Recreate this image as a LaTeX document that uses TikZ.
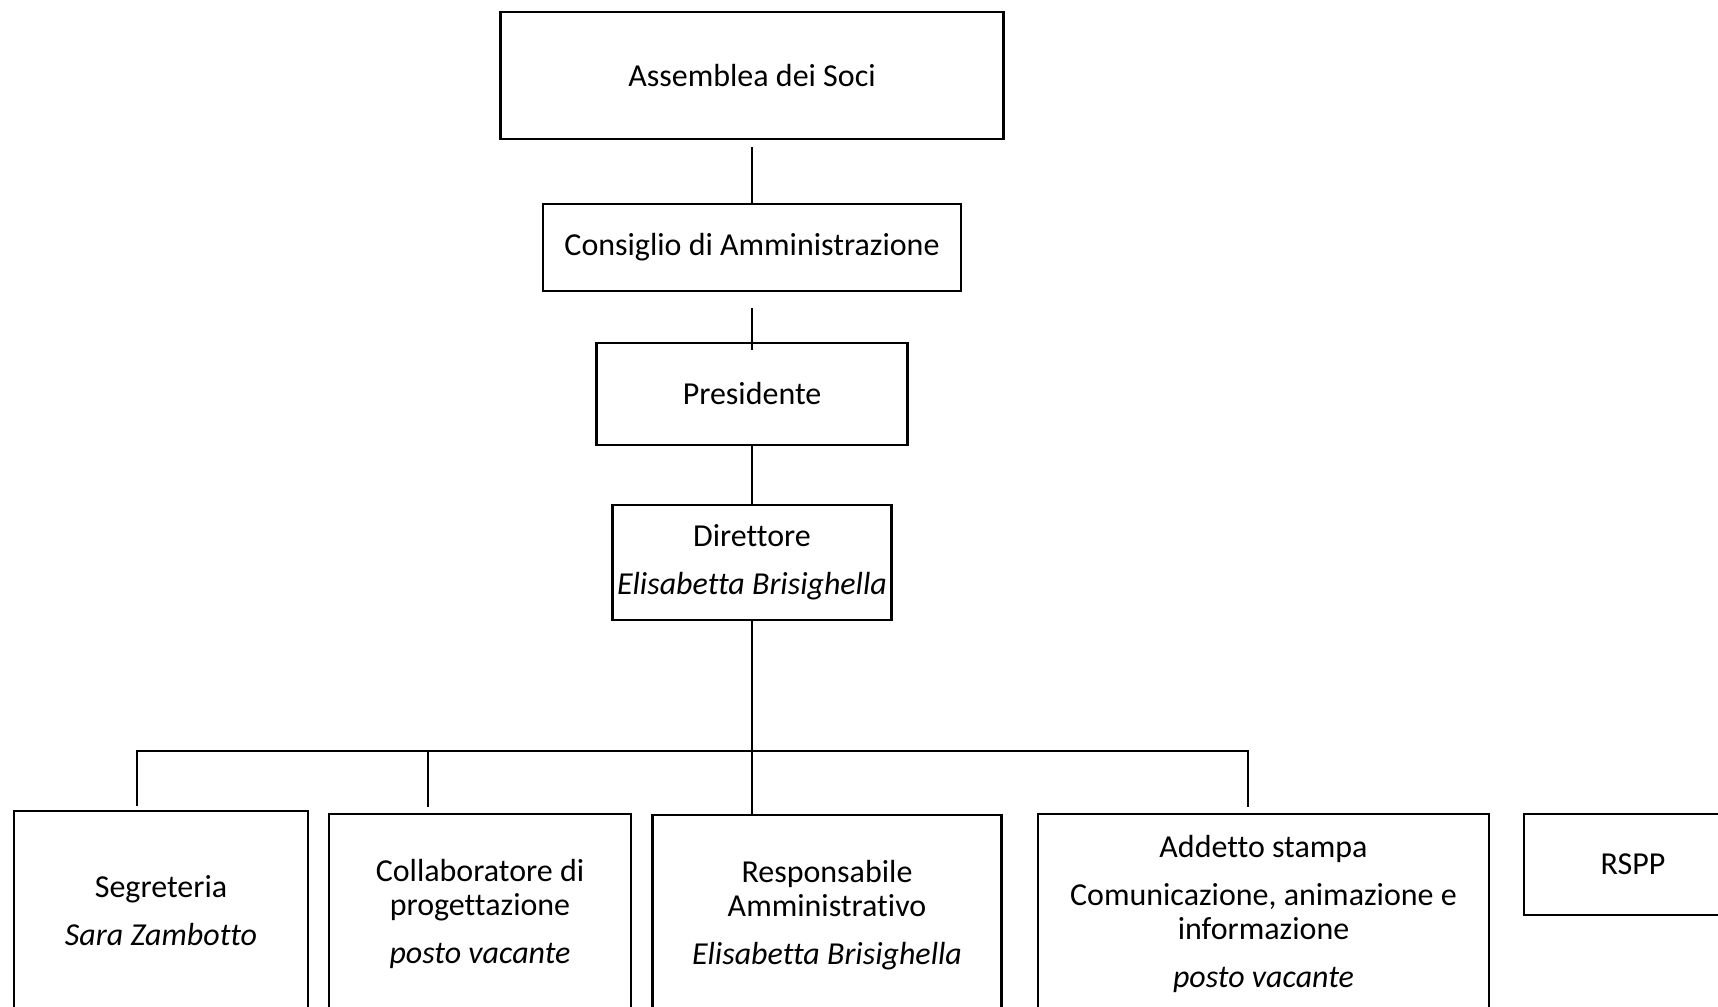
\documentclass[tikz,border=0pt]{standalone}
\usepackage{fontspec}
\setmainfont{Carlito}[Ligatures={NoCommon}]
\usetikzlibrary{positioning,calc}
\tikzset{
  font=\fontsize{9.1}{9.7}\selectfont,
  orgbox/.style={rectangle,draw=black,line width=0.8pt,fill=white,align=center,inner sep=0pt},
  link/.style={draw=black,line width=0.7pt},
}

\begin{document}
\begin{tikzpicture}[x=1cm,y=1cm]

\useasboundingbox (0,0) rectangle (17.18,10.06);

\node[orgbox,minimum width=5.03cm,minimum height=1.27cm] (assemblea) at (7.52,9.305) {Assemblea dei Soci};
\node[orgbox,minimum width=4.18cm,minimum height=0.87cm] (consiglio) at (7.52,7.585) {Consiglio di Amministrazione};
\node[orgbox,minimum width=3.11cm,minimum height=1.02cm] (presidente) at (7.52,6.12) {Presidente};
\node[orgbox,minimum width=2.79cm,minimum height=1.15cm] (direttore) at (7.52,4.435)
  {Direttore\\[4pt]\textit{Elisabetta Brisighella}};

\node[orgbox,minimum width=2.94cm,minimum height=2.0cm] (segreteria) at (1.61,0.95)
  {Segreteria\\[4pt]\textit{Sara Zambotto}};
\node[orgbox,minimum width=3.02cm,minimum height=2.0cm] (collab) at (4.80,0.92)
  {Collaboratore di\\progettazione\\[4pt]\textit{posto vacante}};
\node[orgbox,minimum width=3.485cm,minimum height=2.0cm] (respons) at (8.27,0.91)
  {Responsabile\\Amministrativo\\[4pt]\textit{Elisabetta Brisighella}};
\node[orgbox,minimum width=4.51cm,minimum height=2.0cm] (addetto) at (12.635,0.92)
  {Addetto stampa\\[4pt]Comunicazione, animazione e\\informazione\\[4pt]\textit{posto vacante}};
\node[orgbox,minimum width=2.18cm,minimum height=1.01cm] (rspp) at (16.33,1.415) {RSPP};

\draw[link,shorten <=0.7mm] (assemblea.south) -- (consiglio.north);
\draw[link,shorten <=1.6mm,shorten >=-0.8mm] (consiglio.south) -- (presidente.north);
\draw[link] (presidente.south) -- (direttore.north);
\draw[link] (direttore.south) -- (direttore.south |- respons.north);

\coordinate (busL) at (1.37,2.55);
\coordinate (busC) at (4.28,2.55);
\coordinate (busR) at (12.48,2.55);

\draw[link,shorten <=0.4mm,shorten >=0.6mm] (busL |- segreteria.north) -- (busL) -- (busR) -- (busR |- addetto.north);
\draw[link,shorten >=0.6mm] (busC) -- (busC |- collab.north);

\end{tikzpicture}
\end{document}
